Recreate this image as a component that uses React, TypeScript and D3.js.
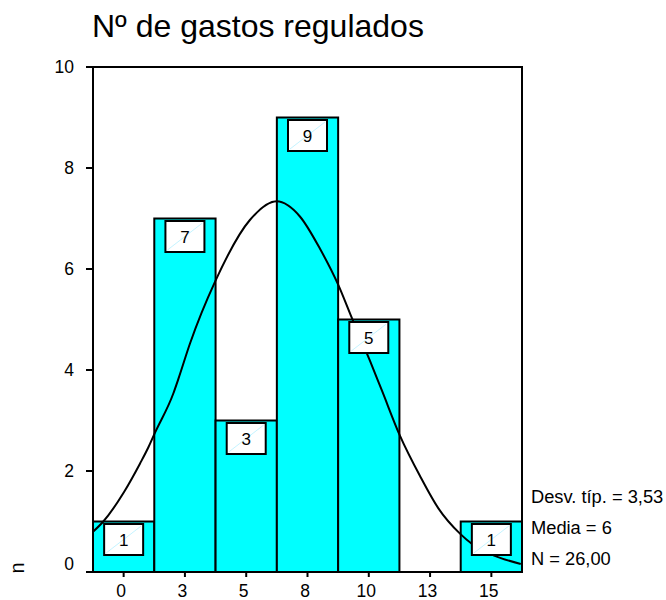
import React from "react";
import * as d3 from "d3";

const title = "Nº de gastos regulados";
const binCenters = [0, 2.5, 5, 7.5, 10, 12.5, 15];
const binWidth = 2.5;
const tickLabels = ["0", "3", "5", "8", "10", "13", "15"];
const counts = [1, 7, 3, 9, 5, 0, 1];
const yTicks = [0, 2, 4, 6, 8, 10];
const yLabel = "n";
const statLines = ["Desv. típ. = 3,53", "Media = 6", "N = 26,00"];

// normal curve
const curveX = [-1.24, -0.83, 0.01, 0.67, 1.01, 1.28, 2.03, 2.23, 2.71, 3.73, 5.15, 6.24, 7.19, 8.01, 8.76, 9.3, 10.05, 10.53, 11.27, 12.09, 12.84, 13.72, 14.2, 14.95, 16.2];
const curveY = [0.8, 1.0, 1.58, 2.15, 2.47, 2.76, 3.54, 3.82, 4.53, 5.75, 6.97, 7.34, 7.04, 6.4, 5.68, 5.04, 4.18, 3.6, 2.7, 1.9, 1.26, 0.76, 0.56, 0.36, 0.16];

const FONT = "Arial, 'Liberation Sans', sans-serif";

export default function App() {
  const left = 93, right = 522, top = 67, bottom = 572;
  const x = d3.scaleLinear().domain([binCenters[0] - binWidth / 2, binCenters[binCenters.length - 1] + binWidth / 2]).range([left, right]);
  const y = d3.scaleLinear().domain([0, 10]).range([bottom, top]);
  const line = d3.line<number>().x((_, i) => x(curveX[i])).y((d) => y(d)).curve(d3.curveMonotoneX);
  const boxW = 39, boxH = 31;

  return (
    <svg width={666} height={600} style={{ position: "absolute", left: 0, top: 0, background: "#fff" }} fontFamily={FONT}>
      <rect x={0} y={0} width={666} height={600} fill="#fff" />
      <text x={92} y={37} fontSize={32} fill="#000">{title}</text>
      {/* bars */}
      {counts.map((c, i) =>
        c > 0 ? (
          <rect key={"b" + i} x={x(binCenters[i] - binWidth / 2)} y={y(c)} width={x(binCenters[i] + binWidth / 2) - x(binCenters[i] - binWidth / 2)} height={y(0) - y(c)} fill="#00FFFF" stroke="#000" strokeWidth={2} />
        ) : null
      )}
      {/* curve */}
      <path d={line(curveY) || ""} fill="none" stroke="#000" strokeWidth={2} />
      {/* value boxes */}
      {counts.map((c, i) => {
        if (c <= 0) return null;
        const bx = x(binCenters[i]) - boxW / 2;
        const by = y(c) + 2.5;
        return (
          <g key={"l" + i}>
            <rect x={bx} y={by} width={boxW} height={boxH} fill="#fff" stroke="#000" strokeWidth={2} />
            <line x1={bx + 2} y1={by + boxH - 2} x2={bx + boxW - 2} y2={by + 2} stroke="#aef" strokeWidth={0.7} />
            <text x={x(binCenters[i])} y={by + boxH / 2} dy="0.36em" textAnchor="middle" fontSize={17} fill="#000">{c}</text>
          </g>
        );
      })}
      {/* frame */}
      <rect x={left} y={top} width={right - left} height={bottom - top} fill="none" stroke="#000" strokeWidth={2} />
      {/* y axis */}
      {yTicks.map((t) => (
        <g key={"y" + t}>
          <line x1={86} x2={left} y1={y(t)} y2={y(t)} stroke="#000" strokeWidth={2} />
          <text x={74} y={y(t) - (t === 0 ? 8 : 0)} dy="0.36em" textAnchor="end" fontSize={17.5} fill="#000">{t}</text>
        </g>
      ))}
      {/* x axis */}
      {binCenters.map((b, i) => (
        <g key={"x" + i}>
          <line x1={x(b)} x2={x(b)} y1={bottom} y2={bottom + 5} stroke="#000" strokeWidth={2} />
          <text x={x(b) - 2.5} y={597} textAnchor="middle" fontSize={17.5} fill="#000">{tickLabels[i]}</text>
        </g>
      ))}
      <text transform="translate(24,568) rotate(-90)" textAnchor="middle" fontSize={20} fill="#000">{yLabel}</text>
      {statLines.map((s, i) => (
        <text key={"s" + i} x={531} y={503 + i * 31} fontSize={18.3} fill="#000">{s}</text>
      ))}
    </svg>
  );
}
